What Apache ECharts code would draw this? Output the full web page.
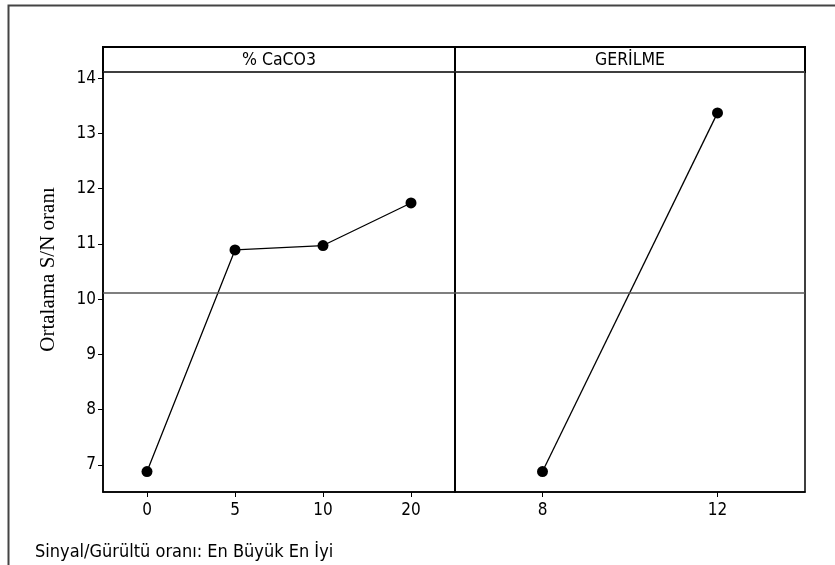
<!DOCTYPE html>
<html>
<head>
<meta charset="utf-8">
<script src="https://cdn.jsdelivr.net/npm/echarts@6/dist/echarts.min.js"></script>
<style>
html,body{margin:0;padding:0;background:#fff;}
#chart{width:835px;height:565px;}
</style>
</head>
<body>
<div id="chart"></div>
<script>
// ---- data ----
const panelTitles = ['% CaCO3', 'GERİLME'];
const caco3Levels = ['0', '5', '10', '20'];
const caco3SN = [6.88, 10.89, 10.97, 11.74];
const gerilmeLevels = ['8', '12'];
const gerilmeSN = [6.88, 13.37];
const yTicks = [7, 8, 9, 10, 11, 12, 13, 14];
const yTitle = 'Ortalama S/N oranı';
const footnote = 'Sinyal/Gürültü oranı: En Büyük En İyi';

const grandMean = caco3SN.reduce((a, b) => a + b, 0) / caco3SN.length;

const FONT = "'DejaVu Sans Condensed', 'DejaVu Sans', sans-serif";
const yMin = 6.51, yMax = 14.11;

const chart = echarts.init(document.getElementById('chart'));

function xAxisFor(idx, data) {
  return {
    type: 'category', gridIndex: idx, data: data, boundaryGap: true,
    axisLine: { show: true, lineStyle: { color: '#000', width: 1.5 } },
    axisTick: { show: true, alignWithLabel: true, length: 5, lineStyle: { color: '#000', width: 1 } },
    axisLabel: { color: '#000', fontSize: 17, fontFamily: FONT, margin: 10 },
    splitLine: { show: false }
  };
}
function yAxisFor(idx, showLabels) {
  return {
    type: 'value', gridIndex: idx, min: yMin, max: yMax,
    axisLine: { show: true, lineStyle: { color: '#000', width: 1.5 } },
    axisTick: { show: showLabels, length: 5, customValues: yTicks, lineStyle: { color: '#000', width: 1 } },
    axisLabel: { show: showLabels, customValues: yTicks, color: '#000', fontSize: 17, fontFamily: FONT, margin: 7 },
    splitLine: { show: false }
  };
}
function seriesFor(idx, data) {
  return {
    type: 'line', xAxisIndex: idx, yAxisIndex: idx, data: data,
    symbol: 'circle', symbolSize: 11, showSymbol: true,
    itemStyle: { color: '#000' },
    lineStyle: { color: '#000', width: 1.3 },
    animation: false, silent: true,
    markLine: {
      silent: true, symbol: 'none', label: { show: false },
      lineStyle: { color: '#555', width: 1.5, type: 'solid' },
      data: [{ yAxis: grandMean }]
    }
  };
}

const gTop = 72, gBottom = 492, gLeft = 103, gMid = 455, gRight = 805, hTop = 47;

chart.setOption({
  animation: false,
  backgroundColor: '#fff',
  grid: [
    { left: gLeft, top: gTop, width: gMid - gLeft, height: gBottom - gTop, show: true, borderColor: '#000', borderWidth: 1.5 },
    { left: gMid, top: gTop, width: gRight - gMid, height: gBottom - gTop, show: true, borderColor: '#000', borderWidth: 1.5 }
  ],
  xAxis: [xAxisFor(0, caco3Levels), xAxisFor(1, gerilmeLevels)],
  yAxis: [yAxisFor(0, true), yAxisFor(1, false)],
  series: [seriesFor(0, caco3SN), seriesFor(1, gerilmeSN)],
  graphic: [
    { type: 'rect', shape: { x: 8.5, y: 5.5, width: 1000, height: 800 }, style: { fill: 'none', stroke: '#444', lineWidth: 2 }, silent: true },
    { type: 'rect', shape: { x: gLeft, y: hTop, width: gRight - gLeft, height: gTop - hTop }, style: { fill: '#fff', stroke: '#000', lineWidth: 2 }, silent: true },
    { type: 'line', shape: { x1: gMid, y1: hTop, x2: gMid, y2: gTop }, style: { stroke: '#000', lineWidth: 2 }, silent: true },
    { type: 'line', shape: { x1: gLeft, y1: gTop, x2: gRight, y2: gTop }, style: { stroke: '#555', lineWidth: 1.5 }, silent: true },
    { type: 'text', x: (gLeft + gMid) / 2, y: (hTop + gTop) / 2 + 1, style: { text: panelTitles[0], fill: '#000', font: '17.5px ' + FONT, align: 'center', verticalAlign: 'middle' }, silent: true },
    { type: 'text', x: (gMid + gRight) / 2, y: (hTop + gTop) / 2 + 1, style: { text: panelTitles[1], fill: '#000', font: '17.5px ' + FONT, align: 'center', verticalAlign: 'middle' }, silent: true },
    { type: 'text', x: 48, y: (hTop + gBottom) / 2, rotation: Math.PI / 2, style: { text: yTitle, fill: '#000', font: "21px 'Liberation Serif', serif", align: 'center', verticalAlign: 'middle' }, silent: true },
    { type: 'text', x: 35, y: 552, style: { text: footnote, fill: '#000', font: '18px ' + FONT, align: 'left', verticalAlign: 'middle' }, silent: true }
  ]
});
</script>
</body>
</html>
